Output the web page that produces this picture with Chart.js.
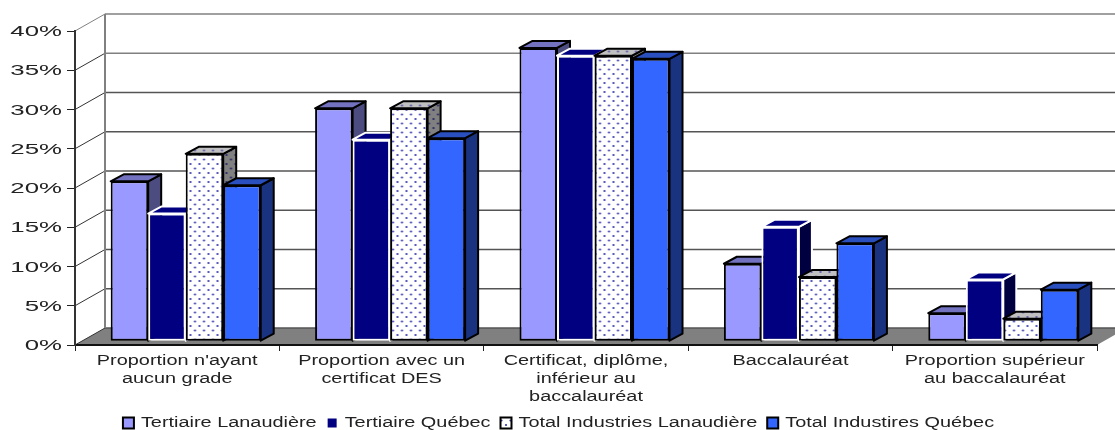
<!DOCTYPE html>
<html>
<head>
<meta charset="utf-8">
<style>html,body{margin:0;padding:0;background:#fff}canvas{display:block}</style>
<script src="https://cdn.jsdelivr.net/npm/chart.js@4"></script>
</head>
<body>
<canvas id="chart" width="1115" height="430"></canvas>
<script>
const categories = [
    ["Proportion n'ayant", "aucun grade"],
    ["Proportion avec un", "certificat DES"],
    ["Certificat, diplôme,", "inférieur au", "baccalauréat"],
    ["Baccalauréat"],
    ["Proportion supérieur", "au baccalauréat"]
];
const seriesNames = ["Tertiaire Lanaudière", "Tertiaire Québec", "Total Industries Lanaudière", "Total Industires Québec"];
const tertiaireLanaudiere = [20.3, 29.6, 37.3, 9.8, 3.5];
const tertiaireQuebec = [16.2, 25.6, 36.3, 14.5, 7.8];
const totalLanaudiere = [23.8, 29.6, 36.3, 8.1, 2.8];
const totalQuebec = [19.8, 25.8, 35.9, 12.4, 6.5];

// fausse 3D : decalage de la profondeur
const wallDx = 30, wallDy = -17;
const barDx = 13, barDy = -7, barShift = 8.5;
const legendShift = 10;

function dots(bg, dot) {
    const c = document.createElement('canvas');
    c.width = 9; c.height = 9;
    const g = c.getContext('2d');
    g.fillStyle = bg;
    g.fillRect(0, 0, 9, 9);
    g.fillStyle = dot;
    [[2, 2], [6.5, 6.5]].forEach(p => {
        g.beginPath();
        g.arc(p[0], p[1], 1.1, 0, Math.PI * 2);
        g.fill();
    });
    return g.createPattern(c, 'repeat');
}

const faces = [
    { top: '#7272c0', side: '#4c4c80', line: '#000' },
    { top: '#000080', side: '#000040', line: '#fff' },
    { top: dots('#c0c0c0', '#5555aa'), side: dots('#808080', '#222266'), line: '#000' },
    { top: '#2a50c0', side: '#1a3380', line: '#000' }
];

// le texte de l'original est etire en largeur, selon la taille de police
function stretchOf(ctx) {
    return ctx.font.includes('15px') ? 1.72 : 1.42;
}

const stretchText = {
    id: 'stretchText',
    beforeInit(chart) {
        const ctx = chart.ctx;
        const fill = ctx.fillText.bind(ctx);
        const measure = ctx.measureText.bind(ctx);
        ctx.fillText = function (text, x, y) {
            const k = stretchOf(ctx);
            ctx.save();
            ctx.translate(x, k === 1.72 ? y + 1 : y);
            ctx.scale(k, 1);
            fill(text, 0, 0);
            ctx.restore();
        };
        ctx.measureText = function (text) {
            return { width: measure(text).width * stretchOf(ctx) };
        };
    },
    afterLayout(chart) {
        chart.legend.left += legendShift;
        chart.legend.right += legendShift;
    }
};

const walls = {
    id: 'walls',
    beforeDraw(chart) {
        const ctx = chart.ctx, y = chart.scales.y, a = chart.chartArea;
        const zero = y.getPixelForValue(0);
        ctx.save();
        // sol
        ctx.fillStyle = '#808080';
        ctx.beginPath();
        ctx.moveTo(a.left, zero);
        ctx.lineTo(a.left + wallDx, zero + wallDy);
        ctx.lineTo(a.right + wallDx, zero + wallDy);
        ctx.lineTo(a.right, zero);
        ctx.closePath();
        ctx.fill();
        // lignes de grille sur les murs
        y.ticks.forEach(t => {
            const p = y.getPixelForValue(t.value);
            ctx.strokeStyle = t.value >= 35 ? '#808080' : '#555';
            ctx.lineWidth = 1.5;
            ctx.beginPath();
            ctx.moveTo(a.left + wallDx, p + wallDy);
            ctx.lineTo(a.right + wallDx, p + wallDy);
            ctx.stroke();
            ctx.strokeStyle = t.value == 40 ? '#808080' : '#333';
            ctx.lineWidth = 1;
            ctx.beginPath();
            ctx.moveTo(a.left, p);
            ctx.lineTo(a.left + wallDx, p + wallDy);
            ctx.stroke();
        });
        ctx.strokeStyle = '#808080';
        ctx.lineWidth = 2;
        ctx.beginPath();
        ctx.moveTo(a.left + wallDx, y.getPixelForValue(40) + wallDy);
        ctx.lineTo(a.left + wallDx, zero + wallDy);
        ctx.stroke();
        ctx.restore();
    }
};

function drawDepth(ctx, meta, f) {
    ctx.save();
    ctx.lineWidth = 2;
    ctx.lineJoin = 'round';
    ctx.strokeStyle = f.line;
    meta.data.forEach(el => {
        const l = el.x - el.width / 2, r = el.x + el.width / 2;
        ctx.fillStyle = f.side;
        ctx.beginPath();
        ctx.moveTo(r, el.y);
        ctx.lineTo(r + barDx, el.y + barDy);
        ctx.lineTo(r + barDx, el.base + barDy);
        ctx.lineTo(r, el.base);
        ctx.closePath();
        ctx.fill();
        ctx.stroke();
        ctx.fillStyle = f.top;
        ctx.beginPath();
        ctx.moveTo(l, el.y);
        ctx.lineTo(l + barDx, el.y + barDy);
        ctx.lineTo(r + barDx, el.y + barDy);
        ctx.lineTo(r, el.y);
        ctx.closePath();
        ctx.fill();
        ctx.stroke();
    });
    ctx.restore();
}

// la serie suivante doit couvrir le flanc de la precedente : on dessine dans l'ordre 0..3
const bars3d = {
    id: 'bars3d',
    beforeDatasetsDraw(chart) {
        const ctx = chart.ctx;
        ctx.save();
        ctx.translate(barShift, 0);
        faces.forEach((f, i) => {
            const meta = chart.getDatasetMeta(i);
            meta.controller.draw();
            drawDepth(ctx, meta, f);
        });
        ctx.restore();
        return false;
    }
};

function barSet(i, data, bg, line) {
    return {
        label: seriesNames[i], data: data, backgroundColor: bg, borderColor: line,
        borderWidth: 2, borderSkipped: false, yAxisID: 'yBars',
        barPercentage: 1, categoryPercentage: 0.734
    };
}

const textColor = '#222';
const canvas = document.getElementById('chart');

new Chart(canvas.getContext('2d'), {
    type: 'bar',
    data: {
        labels: categories,
        datasets: [
            barSet(0, tertiaireLanaudiere, '#9999ff', '#000'),
            barSet(1, tertiaireQuebec, '#000080', '#fff'),
            barSet(2, totalLanaudiere, dots('#fff', '#3333aa'), '#000'),
            barSet(3, totalQuebec, '#3366ff', '#000')
        ]
    },
    options: {
        responsive: false, animation: false,
        layout: { padding: { top: 31, right: 18, left: 0, bottom: -10 } },
        plugins: {
            tooltip: { enabled: false },
            legend: {
                position: 'bottom',
                labels: {
                    boxWidth: 11, boxHeight: 11, padding: 10, color: textColor,
                    font: { family: '"Liberation Sans"', size: 14 }
                }
            }
        },
        scales: {
            x: {
                grid: { drawOnChartArea: false, tickLength: 6, color: '#222' },
                border: { color: '#111', width: 2 },
                ticks: {
                    maxRotation: 0, autoSkip: false, padding: 1, color: textColor,
                    font: { family: '"Liberation Sans"', size: 14, lineHeight: 1.29 }
                },
                afterFit(s) { s.height = 61; }
            },
            y: {
                min: 0, max: 40,
                grid: { drawOnChartArea: false, tickLength: 8, color: '#222' },
                border: { color: '#333', width: 2 },
                ticks: {
                    stepSize: 5, padding: 5, color: textColor,
                    font: { family: '"Liberation Sans"', size: 15 },
                    callback: v => v + '%'
                },
                afterFit(s) { s.width = 75; }
            },
            yBars: { display: false, min: -0.55, max: 39.45 }
        }
    },
    plugins: [stretchText, walls, bars3d]
});
</script>
</body>
</html>
